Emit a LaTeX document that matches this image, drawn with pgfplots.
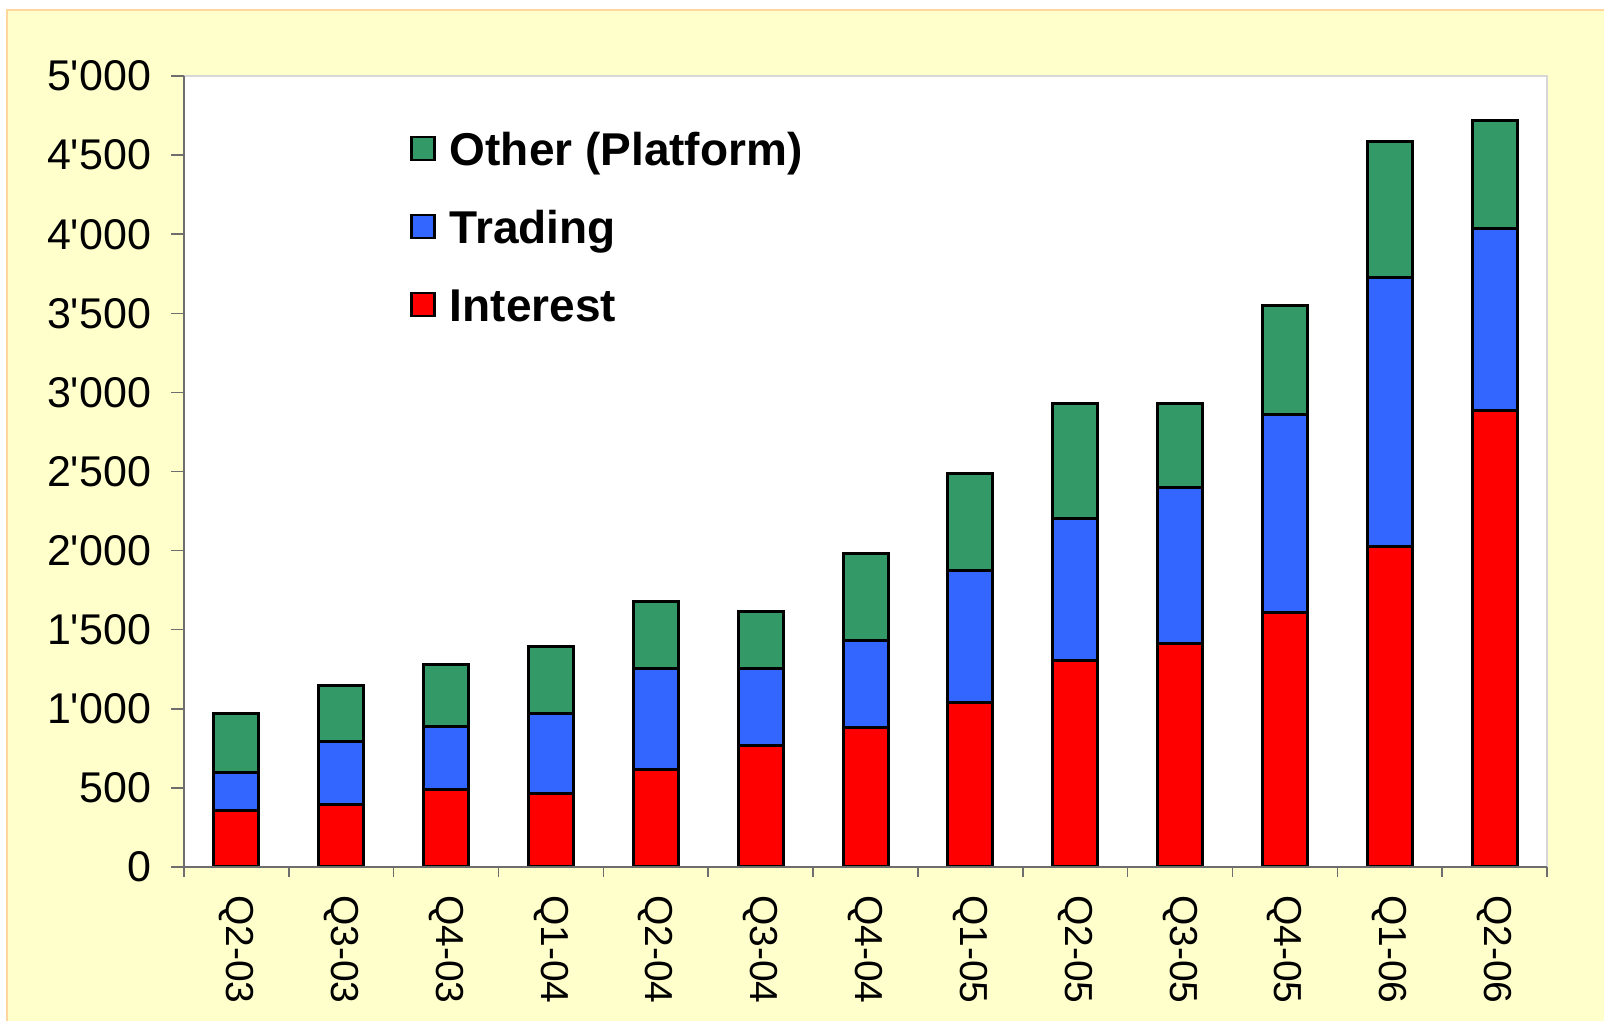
\documentclass[border=0pt]{standalone}
\usepackage{fontspec}
\setmainfont{Liberation Sans}
\usepackage{pgfplots}
\usepackage{pgfplotstable}
\pgfplotsset{compat=1.18}
\definecolor{bgyellow}{RGB}{255,255,204}
\definecolor{bordc}{RGB}{255,214,160}
\definecolor{cgreen}{RGB}{51,153,102}
\definecolor{cblue}{RGB}{51,102,255}
\definecolor{cred}{RGB}{255,0,0}
\definecolor{axgray}{RGB}{110,110,110}
\definecolor{lgray}{RGB}{215,215,215}
\pgfplotsset{sqlegend/.style={legend image code/.code={\draw[##1, line width=1.2pt] (0pt,-3pt) rectangle (11.5pt,8.5pt);}}}

\pgfplotstableread{
x interest trading other
0 355 244 372
1 396 396 357
2 487 400 394
3 466 503 422
4 618 638 421
5 771 485 356
6 883 547 553
7 1039 838 612
8 1303 898 728
9 1410 990 529
10 1607 1255 686
11 2029 1700 854
12 2884 1149 683
}\datatable

\begin{document}
\begin{tikzpicture}
\useasboundingbox (0,0) rectangle (802pt,510.5pt);
\fill[bgyellow] (3.5pt,0) rectangle (802pt,505.5pt);
\draw[bordc, line width=1pt] (3.5pt,0) -- (3.5pt,505.5pt) -- (802pt,505.5pt);
\begin{axis}[
  at={(92pt,77pt)}, anchor=south west,
  width=681.5pt, height=395.5pt, scale only axis,
  xmin=-0.5, xmax=12.5, ymin=0, ymax=5000,
  ybar stacked, bar width=22.5pt,
  axis background/.style={fill=white},
  axis line style={draw=none},
  xtick={0,...,12},
  xticklabels={Q2-03,Q3-03,Q4-03,Q1-04,Q2-04,Q3-04,Q4-04,Q1-05,Q2-05,Q3-05,Q4-05,Q1-06,Q2-06},
  ytick={0,500,...,5000},
  yticklabels={0,500,1\textquotesingle000,1\textquotesingle500,2\textquotesingle000,2\textquotesingle500,3\textquotesingle000,3\textquotesingle500,4\textquotesingle000,4\textquotesingle500,5\textquotesingle000},
  major x tick style={draw=none},
  minor xtick={-0.5,0.5,...,12.5},
  xtick pos=bottom, ytick pos=left, tick align=outside,
  major tick length=6.5pt, minor tick length=5pt,
  tick style={axgray, line width=0.75pt},
  xticklabel style={font=\fontsize{19.5}{23}\selectfont, yshift=-4pt, rotate=-90, anchor=west},
  yticklabel style={font=\fontsize{21.5}{25}\selectfont, xshift=-6.5pt},
  reverse legend,
  legend cell align=left,
  legend style={at={(0.1658,0.930)}, anchor=north west, draw=none, fill=none,
    inner sep=0pt, font=\fontsize{23}{27}\selectfont\bfseries,
    row sep=17pt, column sep=7pt,
    nodes={inner sep=0pt, text height=17pt, text depth=5pt}},
  after end axis/.code={
    \draw[lgray, line width=0.75pt] (rel axis cs:0,1) -- (rel axis cs:1,1) -- (rel axis cs:1,0);
    \draw[axgray, line width=0.75pt] (rel axis cs:0,1) -- (rel axis cs:0,0) -- (rel axis cs:1,0);
  },
]
\addplot[fill=cred, draw=black, line width=1.5pt, sqlegend]
  table[x=x, y=interest]{\datatable};
\addplot[fill=cblue, draw=black, line width=1.5pt, sqlegend]
  table[x=x, y=trading]{\datatable};
\addplot[fill=cgreen, draw=black, line width=1.5pt, sqlegend]
  table[x=x, y=other]{\datatable};
\legend{Interest, Trading, Other (Platform)}
\end{axis}
\end{tikzpicture}
\end{document}
